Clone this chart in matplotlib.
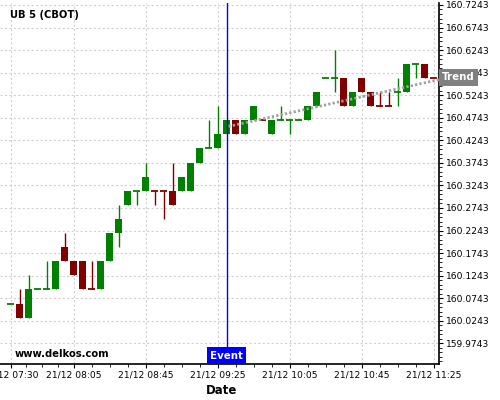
import numpy as np
import matplotlib
matplotlib.use("Agg")
import matplotlib.pyplot as plt
from matplotlib.ticker import FixedLocator

# ------------------------------
# Data (5-min candles, UB 5 on 21/12)
# ------------------------------
opens = [160.0625, 160.0625, 160.03125, 160.09375, 160.09375, 160.09375, 160.1875, 160.15625,
         160.15625, 160.09375, 160.09375, 160.15625, 160.21875, 160.28125, 160.3125, 160.3125,
         160.3125, 160.3125, 160.3125, 160.3125, 160.3125, 160.375, 160.40625, 160.40625,
         160.4375, 160.46875, 160.4375, 160.46875, 160.46875, 160.4375, 160.46875, 160.46875,
         160.46875, 160.46875, 160.5, 160.5625, 160.5625, 160.5625, 160.5, 160.5625,
         160.53125, 160.5, 160.5, 160.53125, 160.53125, 160.59375, 160.59375, 160.5625]
highs = [160.0625, 160.09375, 160.125, 160.09375, 160.15625, 160.15625, 160.21875, 160.15625,
         160.15625, 160.15625, 160.15625, 160.21875, 160.28125, 160.3125, 160.3125, 160.375,
         160.3125, 160.3125, 160.375, 160.34375, 160.375, 160.40625, 160.46875, 160.5,
         160.46875, 160.46875, 160.46875, 160.5, 160.46875, 160.46875, 160.5, 160.46875,
         160.46875, 160.5, 160.53125, 160.5625, 160.625, 160.5625, 160.53125, 160.5625,
         160.53125, 160.53125, 160.53125, 160.5625, 160.59375, 160.59375, 160.59375, 160.5625]
lows = [160.0625, 160.03125, 160.03125, 160.09375, 160.09375, 160.09375, 160.15625, 160.125,
        160.09375, 160.09375, 160.09375, 160.15625, 160.1875, 160.28125, 160.28125, 160.3125,
        160.28125, 160.25, 160.28125, 160.3125, 160.3125, 160.375, 160.40625, 160.40625,
        160.4375, 160.4375, 160.4375, 160.46875, 160.46875, 160.4375, 160.46875, 160.4375,
        160.46875, 160.46875, 160.5, 160.5625, 160.53125, 160.5, 160.5, 160.53125,
        160.5, 160.5, 160.5, 160.5, 160.53125, 160.5625, 160.5625, 160.5625]
closes = [160.0625, 160.03125, 160.09375, 160.09375, 160.09375, 160.15625, 160.15625, 160.125,
          160.09375, 160.09375, 160.15625, 160.21875, 160.25, 160.3125, 160.3125, 160.34375,
          160.3125, 160.3125, 160.28125, 160.34375, 160.375, 160.40625, 160.40625, 160.4375,
          160.46875, 160.4375, 160.46875, 160.5, 160.46875, 160.46875, 160.46875, 160.46875,
          160.46875, 160.5, 160.53125, 160.5625, 160.5625, 160.5, 160.53125, 160.53125,
          160.5, 160.5, 160.5, 160.53125, 160.59375, 160.59375, 160.5625, 160.5625]
# colour of each candle (True = up/green), needed for the flat ones
bullish = [True, False, True, True, True, True, False, False,
           False, False, True, True, True, True, True, True,
           False, False, False, True, True, True, True, True,
           True, False, True, True, False, True, True, True,
           True, True, True, True, True, False, True, False,
           False, False, False, True, True, True, False, False]

tick_idx = [0, 7, 15, 23, 31, 39, 47]
tick_labels = ["21/12 07:30", "21/12 08:05", "21/12 08:45", "21/12 09:25",
               "21/12 10:05", "21/12 10:45", "21/12 11:25"]

event_idx = 24
trend_x = [24.2, 47.62]
trend_y = [160.455, 160.559]

y_ticks = np.arange(159.9743, 160.75, 0.05)
y_minor = np.arange(159.9343, 160.73, 0.01)

GREEN = "#008000"
RED = "#800000"

# ------------------------------
# Figure
# ------------------------------
fig = plt.figure(figsize=(5, 4), dpi=100)
ax = fig.add_axes([0.0, 0.09, 0.8786, 0.9025])

x = np.arange(len(opens))
o = np.array(opens)
c = np.array(closes)
colors = [GREEN if b else RED for b in bullish]

ax.vlines(x, lows, highs, colors=colors, linewidth=1.0, zorder=3)
body_lo = np.minimum(o, c)
body_h = np.abs(c - o)
ax.bar(x, body_h, bottom=body_lo, width=0.78, color=colors, linewidth=0, zorder=4)
flat = body_h == 0
ax.hlines(o[flat], x[flat] - 0.39, x[flat] + 0.39, colors=np.array(colors)[flat],
          linewidth=1.3, zorder=4)

# trend and event
ax.plot(trend_x, trend_y, color="#a0a0a0", linewidth=2.0, linestyle=(0, (0.8, 0.8)), zorder=5)
ax.axvline(event_idx, color="#0000ff", linewidth=1.0, zorder=6)

ax.set_xlim(-1.19, 47.62)
ax.set_ylim(159.9285, 160.7287)

# axes styling
for s in ["left", "top"]:
    ax.spines[s].set_visible(False)
for s in ["right", "bottom"]:
    ax.spines[s].set_linewidth(1.2)
ax.yaxis.tick_right()
ax.yaxis.set_major_locator(FixedLocator(y_ticks))
ax.yaxis.set_minor_locator(FixedLocator(y_minor))
ax.set_yticklabels([f"{v:.4f}" for v in y_ticks])
ax.xaxis.set_major_locator(FixedLocator(tick_idx))
ax.xaxis.set_minor_locator(FixedLocator(list(np.linspace(0, 7, 5)) + list(range(9, 48, 2))))
ax.set_xticklabels(tick_labels)
ax.tick_params(axis="both", which="major", labelsize=6.6, length=3, width=0.8, pad=1.5)
ax.tick_params(axis="both", which="minor", length=2, width=0.6)
ax.grid(True, which="major", color="#d0d0d0", linewidth=0.8, linestyle=(0, (2, 2)))
ax.set_axisbelow(True)

ax.set_xlabel("Date", fontsize=8.5, fontweight="bold", labelpad=1)
ax.xaxis.set_label_coords(0.505, -0.055)

fig.text(10 / 500, 1 - 15.5 / 400, "UB 5 (CBOT)", fontsize=7.2, fontweight="bold",
         va="center", ha="left")
ax.text(15 / 439.3, (364 - 354) / 361, "www.delkos.com", transform=ax.transAxes,
        fontsize=7.2, fontweight="bold", va="center", ha="left")

ax.annotate("Event", xy=(event_idx, 0), xycoords=("data", "axes fraction"),
            xytext=(0, 2.4), textcoords="offset points",
            ha="center", va="bottom", fontsize=7.4, fontweight="bold", color="white",
            bbox=dict(boxstyle="square,pad=0.32", fc="#0000ff", ec="none"), zorder=7)
ax.annotate("Trend", xy=(1.0, trend_y[-1]), xycoords=("axes fraction", "data"),
            xytext=(2.2, 1.5), textcoords="offset points",
            ha="left", va="center", fontsize=7.4, fontweight="bold", color="white",
            bbox=dict(boxstyle="square,pad=0.3", fc="#808080", ec="none"),
            zorder=7, annotation_clip=False)

plt.savefig("out.png", dpi=100)
plt.close()
